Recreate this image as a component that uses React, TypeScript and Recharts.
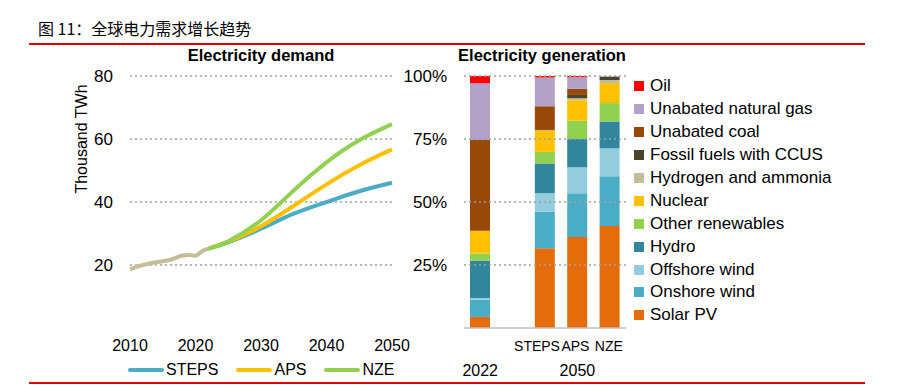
import React from "react";
import {
  LineChart,
  Line,
  BarChart,
  Bar,
  XAxis,
  YAxis,
  ReferenceLine,
} from "recharts";

// demand, thousand TWh
const histYears = [2010, 2011, 2012, 2013, 2014, 2015, 2016, 2017, 2018, 2019, 2020, 2021, 2022];
const histDemand = [18.6, 19.4, 20.0, 20.5, 20.9, 21.2, 21.6, 22.3, 23.0, 23.2, 22.9, 24.4, 25.2];

const scenYears = [2022, 2025, 2030, 2035, 2040, 2045, 2050];
const stepsDemand = [25.2, 27.2, 31.5, 36.3, 40.0, 43.4, 46.1];
const apsDemand = [25.2, 27.4, 32.3, 38.8, 45.6, 51.7, 56.7];
const nzeDemand = [25.2, 27.5, 34.2, 43.7, 52.6, 59.6, 64.7];

const yearTicks = [2010, 2020, 2030, 2040, 2050];
const demandTicks = [20, 40, 60, 80];

// generation mix, % share
const genCategories = ["2022", "", "STEPS", "APS", "NZE"];
const solarPV = [4.4, 0, 31.6, 36.1, 40.3];
const onshoreWind = [6.9, 0, 14.5, 17.3, 19.7];
const offshoreWind = [0.6, 0, 7.4, 10.3, 11.0];
const hydro = [14.8, 0, 11.8, 11.2, 10.6];
const otherRenewables = [2.9, 0, 4.6, 7.3, 7.3];
const nuclear = [9.1, 0, 8.5, 8.1, 7.9];
const hydrogen = [0, 0, 0.1, 0.8, 1.2];
const fossilCcus = [0, 0, 0.1, 1.3, 1.3];
const coal = [36.1, 0, 9.4, 2.4, 0];
const gas = [22.5, 0, 11.4, 4.6, 0.3];
const oil = [2.9, 0, 0.6, 0.5, 0];

const shareTicks = [0.25, 0.5, 0.75, 1];

const genSeries = [
  { key: "solar", name: "Solar PV", color: "#E46C0A", values: solarPV },
  { key: "onshore", name: "Onshore wind", color: "#4BACC6", values: onshoreWind },
  { key: "offshore", name: "Offshore wind", color: "#93CDDD", values: offshoreWind },
  { key: "hydro", name: "Hydro", color: "#31859C", values: hydro },
  { key: "other", name: "Other renewables", color: "#92D050", values: otherRenewables },
  { key: "nuclear", name: "Nuclear", color: "#FFC000", values: nuclear },
  { key: "h2", name: "Hydrogen and ammonia", color: "#C4BD97", values: hydrogen },
  { key: "ccus", name: "Fossil fuels with CCUS", color: "#4A452A", values: fossilCcus },
  { key: "coal", name: "Unabated coal", color: "#984807", values: coal },
  { key: "gas", name: "Unabated natural gas", color: "#B3A2C7", values: gas },
  { key: "oil", name: "Oil", color: "#FF0000", values: oil },
];

const lineSeries = [
  { key: "steps", name: "STEPS", color: "#4BACC6" },
  { key: "aps", name: "APS", color: "#FFC000" },
  { key: "nze", name: "NZE", color: "#92D050" },
];

const FONT = "'Liberation Sans', Arial, sans-serif";
const GRID = { stroke: "#a0a0a0", strokeDasharray: "2 3", strokeWidth: 1.5 };

const demandData = (() => {
  const rows: Record<number, any> = {};
  histYears.forEach((y, i) => {
    rows[y] = { ...(rows[y] || { year: y }), hist: histDemand[i] };
  });
  scenYears.forEach((y, i) => {
    rows[y] = {
      ...(rows[y] || { year: y }),
      steps: stepsDemand[i],
      aps: apsDemand[i],
      nze: nzeDemand[i],
    };
  });
  return Object.values(rows).sort((a: any, b: any) => a.year - b.year);
})();

const genData = genCategories.map((cat, i) => {
  const row: any = { cat };
  genSeries.forEach((s) => (row[s.key] = s.values[i]));
  return row;
});

const GenTick = (props: any) => {
  const { x, y, payload } = props;
  const v = payload.value;
  const style = { fontFamily: FONT, fontSize: 14, fill: "#000" };
  if (v === "2022") {
    return (
      <text x={x} y={y + 48} textAnchor="middle" style={{ ...style, fontSize: 16 }}>
        2022
      </text>
    );
  }
  if (!v) return <g />;
  const shift = v === "STEPS" ? -8 : v === "APS" ? -2 : -1;
  return (
    <g>
      <text x={x + shift} y={y + 23} textAnchor="middle" style={style}>
        {v}
      </text>
      {v === "APS" && (
        <text x={x} y={y + 48} textAnchor="middle" style={{ ...style, fontSize: 16 }}>
          2050
        </text>
      )}
    </g>
  );
};

export default function App() {
  return (
    <div
      style={{
        position: "absolute",
        left: 0,
        top: 0,
        width: 919,
        height: 388,
        background: "#fff",
        fontFamily: FONT,
        color: "#000",
        overflow: "hidden",
      }}
    >
      <div
        style={{
          position: "absolute",
          left: 38,
          top: 17,
          fontSize: 16,
          fontFamily: "'Noto Sans CJK SC', sans-serif",
          whiteSpace: "pre",
          lineHeight: "22px",
        }}
      >
        图 11：全球电力需求增长趋势
      </div>
      <div style={{ position: "absolute", left: 29, top: 43, width: 836, height: 2, background: "#E00000" }} />
      <div style={{ position: "absolute", left: 29, top: 382, width: 836, height: 2, background: "#E00000" }} />

      <div style={{ position: "absolute", left: 130, width: 262, top: 46, textAlign: "center", fontWeight: "bold", fontSize: 16.5 }}>
        Electricity demand
      </div>
      <div style={{ position: "absolute", left: 445, width: 194, top: 46, textAlign: "center", fontWeight: "bold", fontSize: 16.5 }}>
        Electricity generation
      </div>

      <div
        style={{
          position: "absolute",
          left: 82 - 70,
          top: 139 - 11,
          width: 140,
          height: 22,
          textAlign: "center",
          fontSize: 16,
          lineHeight: "22px",
          transform: "rotate(-90deg)",
        }}
      >
        Thousand TWh
      </div>

      <div style={{ position: "absolute", left: 0, top: 0 }}>
        <LineChart
          width={420}
          height={388}
          data={demandData}
          margin={{ top: 76, right: 28, bottom: 30, left: 0 }}
        >
          <XAxis
            dataKey="year"
            type="number"
            domain={[2010, 2050]}
            ticks={yearTicks}
            axisLine={false}
            tickLine={false}
            tickMargin={6}
            height={30}
            tick={{ fill: "#000", fontSize: 16, fontFamily: FONT }}
          />
          <YAxis
            domain={[0, 80]}
            ticks={demandTicks}
            width={130}
            axisLine={false}
            tickLine={false}
            tickMargin={11}
            tick={{ fill: "#000", fontSize: 17, fontFamily: FONT }}
          />
          {demandTicks.map((t) => (
            <ReferenceLine key={t} y={t} {...GRID} />
          ))}
          <Line
            dataKey="hist"
            type="monotone"
            stroke="#C4BD97"
            strokeWidth={4}
            dot={false}
            isAnimationActive={false}
          />
          {lineSeries.map((s) => (
            <Line
              key={s.key}
              dataKey={s.key}
              name={s.name}
              type="natural"
              stroke={s.color}
              strokeWidth={4}
              dot={false}
              isAnimationActive={false}
            />
          ))}
        </LineChart>
      </div>

      {/* line legend */}
      <div style={{ position: "absolute", left: 128, top: 359, display: "flex", alignItems: "center", fontSize: 16, lineHeight: "22px" }}>
        {lineSeries.map((s, i) => (
          <div key={s.key} style={{ display: "flex", alignItems: "center", marginRight: i < 2 ? 18 : 0 }}>
            <div style={{ width: 36, height: 4, borderRadius: 2, background: s.color, marginRight: 2 }} />
            <span>{s.name}</span>
          </div>
        ))}
      </div>

      <div style={{ position: "absolute", left: 400, top: 0 }}>
        <BarChart
          width={240}
          height={388}
          data={genData}
          stackOffset="expand"
          barSize={20}
          margin={{ top: 76, right: 14, bottom: 30, left: 0 }}
        >
          <XAxis
            dataKey="cat"
            interval={0}
            axisLine={{ stroke: "#bfbfbf", strokeWidth: 1.5 }}
            tickLine={false}
            tickSize={0}
            tickMargin={0}
            height={30}
            tick={<GenTick />}
          />
          <YAxis
            domain={[0, 1]}
            ticks={shareTicks}
            width={64}
            axisLine={false}
            tickLine={false}
            tickMargin={11}
            tickFormatter={(v: number) => `${Math.round(v * 100)}%`}
            tick={{ fill: "#000", fontSize: 17, fontFamily: FONT }}
          />
          {shareTicks.map((t) => (
            <ReferenceLine key={t} y={t} {...GRID} />
          ))}
          {genSeries.map((s) => (
            <Bar
              key={s.key}
              dataKey={s.key}
              name={s.name}
              stackId="gen"
              fill={s.color}
              isAnimationActive={false}
            />
          ))}
        </BarChart>
      </div>

      {/* generation legend, top item first */}
      <div style={{ position: "absolute", left: 634, top: 75 }}>
        {[...genSeries].reverse().map((s) => (
          <div key={s.key} style={{ display: "flex", alignItems: "center", height: 22.9, fontSize: 17 }}>
            <div style={{ width: 10, height: 10, background: s.color, marginRight: 6 }} />
            <span style={{ whiteSpace: "nowrap" }}>{s.name}</span>
          </div>
        ))}
      </div>
    </div>
  );
}
